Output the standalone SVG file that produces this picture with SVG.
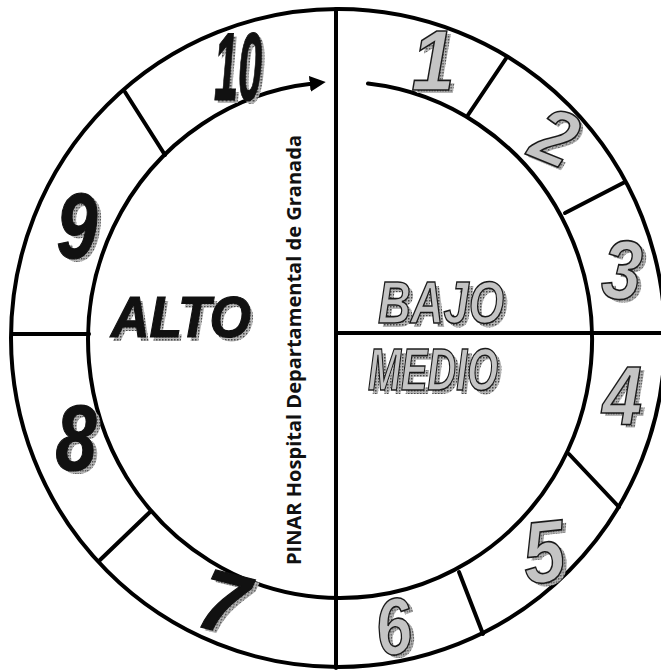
<svg xmlns="http://www.w3.org/2000/svg" width="661" height="671" viewBox="0 0 661 671">
<defs>
<pattern id="stip" width="3" height="3" patternUnits="userSpaceOnUse">
<rect width="3" height="3" fill="#b5b5b5"/>
<rect width="1.5" height="1.5" fill="#4a4a4a"/>
</pattern>
<marker id="ah" viewBox="0 0 10 10" refX="2" refY="5" markerWidth="4" markerHeight="4" orient="auto" markerUnits="strokeWidth">
<path d="M0,0 L10,5 L0,10 Z" fill="#000"/>
</marker>
<style>
.ln{fill:none;stroke:#000;stroke-width:4;stroke-linecap:round}
.num{font-family:"Liberation Sans",Arial,sans-serif;font-weight:bold;font-style:italic;text-anchor:middle}
.blk{fill:#111;stroke:#111;stroke-width:1.2}
.gry{fill:#c4c4c4;stroke:#1a1a1a;stroke-width:1.6}
.shd{fill:url(#stip)}
.lbl{font-family:"Open Sans","Noto Sans",sans-serif;font-weight:bold;font-size:20px;fill:#111}
</style>
</defs>
<rect width="661" height="671" fill="#fff"/>
<g id="connectors">
<ellipse class="ln" cx="338" cy="338" rx="327" ry="329"/>
<path class="ln" d="M368,83.6 A252,258 0 1 1 313,83.5" marker-end="url(#ah)"/>
<line class="ln" x1="336" y1="9" x2="336" y2="668"/>
<line class="ln" x1="336" y1="333" x2="661" y2="333"/>
<line class="ln" x1="12" y1="334" x2="89" y2="334"/>
<line class="ln" x1="125" y1="92" x2="165" y2="155"/>
<line class="ln" x1="100" y1="560" x2="150" y2="512"/>
<line class="ln" x1="459" y1="572" x2="483" y2="634"/>
<line class="ln" x1="569" y1="454" x2="619" y2="507"/>
<line class="ln" x1="565" y1="213" x2="625" y2="182"/>
<line class="ln" x1="468" y1="115" x2="507" y2="57"/>
</g>
<g id="seg10">
<text class="num shd" font-size="96" transform="translate(241,103) scale(0.45,1)">10</text>
<text class="num blk" font-size="96" transform="translate(238,100) scale(0.45,1)">10</text>
</g>
<g id="seg1">
<text class="num shd" font-size="86" transform="translate(437,93) scale(0.9,1)">1</text>
<text class="num gry" font-size="86" transform="translate(433,90) scale(0.9,1)">1</text>
</g>
<g id="seg2">
<text class="num shd" font-size="78" transform="translate(548,165) rotate(22) scale(0.95,1)">2</text>
<text class="num gry" font-size="78" transform="translate(545,162) rotate(22) scale(0.95,1)">2</text>
</g>
<g id="seg3">
<text class="num shd" font-size="84" transform="translate(624,302) rotate(4) scale(0.85,1)">3</text>
<text class="num gry" font-size="84" transform="translate(620,299) rotate(4) scale(0.85,1)">3</text>
</g>
<g id="seg4">
<text class="num shd" font-size="84" transform="translate(626,428) scale(0.85,1)">4</text>
<text class="num gry" font-size="84" transform="translate(622,425) scale(0.85,1)">4</text>
</g>
<g id="seg5">
<text class="num shd" font-size="88" transform="translate(551,585) rotate(-6) scale(0.85,1)">5</text>
<text class="num gry" font-size="88" transform="translate(547,582) rotate(-6) scale(0.85,1)">5</text>
</g>
<g id="seg6">
<text class="num shd" font-size="80" transform="translate(401,657) rotate(-8) scale(0.8,1)">6</text>
<text class="num gry" font-size="80" transform="translate(397,654) rotate(-8) scale(0.8,1)">6</text>
</g>
<g id="seg7">
<text class="num shd" font-size="86" transform="translate(220,634) rotate(14) scale(0.95,1)">7</text>
<text class="num blk" font-size="86" transform="translate(216,631) rotate(14) scale(0.95,1)">7</text>
</g>
<g id="seg8">
<text class="num shd" font-size="92" transform="translate(80,473) scale(0.8,1)">8</text>
<text class="num blk" font-size="92" transform="translate(76,470) scale(0.8,1)">8</text>
</g>
<g id="seg9">
<text class="num shd" font-size="92" transform="translate(81,261) scale(0.8,1)">9</text>
<text class="num blk" font-size="92" transform="translate(77,258) scale(0.8,1)">9</text>
</g>
<g id="alto">
<text class="num shd" font-size="58" x="114" y="341" textLength="140" lengthAdjust="spacingAndGlyphs" style="text-anchor:start">ALTO</text>
<text class="num blk" font-size="58" x="111" y="337" textLength="140" lengthAdjust="spacingAndGlyphs" style="text-anchor:start">ALTO</text>
</g>
<g id="bajo">
<text class="num shd" font-size="60" x="382" y="327" textLength="126" lengthAdjust="spacingAndGlyphs" style="text-anchor:start">BAJO</text>
<text class="num gry" font-size="60" x="378" y="323" textLength="126" lengthAdjust="spacingAndGlyphs" style="text-anchor:start">BAJO</text>
</g>
<g id="medio">
<text class="num shd" font-size="60" x="372" y="394" textLength="130" lengthAdjust="spacingAndGlyphs" style="text-anchor:start">MEDIO</text>
<text class="num gry" font-size="60" x="368" y="390" textLength="130" lengthAdjust="spacingAndGlyphs" style="text-anchor:start">MEDIO</text>
</g>
<g id="title">
<text class="lbl" transform="translate(301,565) rotate(-90)" textLength="430" lengthAdjust="spacingAndGlyphs">PINAR Hospital Departamental de Granada</text>
</g>
</svg>
